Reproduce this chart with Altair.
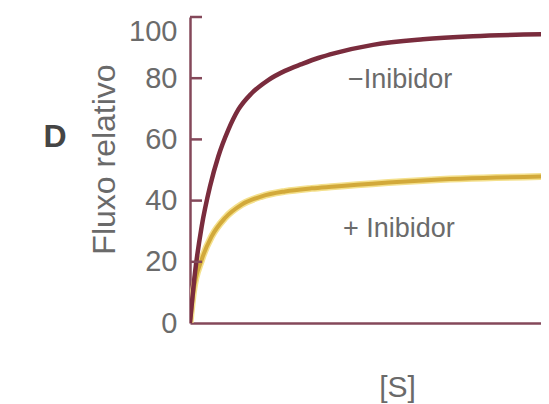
import altair as alt
import pandas as pd

# Data ([S] in arbitrary units, flux in %)
s_sem = [0, 1.39, 3.26, 5.57, 7.88, 10.67, 13.45, 17.19, 21.81, 26.46, 31.11, 35.74, 40.39, 50.97, 64.9, 78.83, 100]
f_sem = [0, 16.4, 31.6, 44.6, 54.4, 63.1, 69.7, 75.1, 79.4, 82.4, 84.6, 86.6, 88.2, 90.9, 92.7, 93.7, 94.4]
s_com = [0, 0.92, 3.26, 6.04, 9.75, 14.4, 19.97, 26.46, 33.9, 40.39, 46.52, 64.9, 100]
f_com = [0, 9.9, 20.7, 28.3, 34.3, 38.7, 41.4, 43, 44.0, 44.6, 45.2, 46.6, 47.9]
y_ticks = [20, 40, 60, 80, 100]
y_labels = [0, 20, 40, 60, 80, 100]
labels = ["\u2212Inibidor", "+ Inibidor"]
label_s = [44, 42.6]
label_f = [79.4, 30.8]

sem = pd.DataFrame({"S": s_sem, "F": f_sem})
com = pd.DataFrame({"S": s_com, "F": f_com})
ticks = pd.DataFrame({"v": y_ticks})
lab = pd.DataFrame({"t": labels, "S": label_s, "F": label_f})

MAROON = "#7a2c3d"
AXIS = "#84485a"
GOLD = "#d2a93a"

xs = alt.Scale(domain=[0, 97.8], nice=False)
ys = alt.Scale(domain=[0, 100], nice=False)

xenc = alt.X("S:Q", scale=xs, axis=alt.Axis(
    title="[S]", labels=False, ticks=False, grid=False,
    domainColor=AXIS, domainWidth=2.5,
    titleFont="Liberation Sans", titleFontSize=30, titleFontWeight="normal",
    titleColor="#6a6a6a", titleX=207, titleY=64, titleBaseline="middle",
    titleAlign="center"))
yenc = alt.Y("F:Q", scale=ys, axis=alt.Axis(
    title="Fluxo relativo", values=y_labels, ticks=False, grid=False,
    domainColor=AXIS, domainWidth=2.5, labelPadding=13,
    labelBaseline=alt.expr("datum.value == 100 ? 'top' : 'middle'"),
    labelFont="Liberation Sans", labelFontSize=29, labelColor="#6b6b6b",
    titleFont="Liberation Sans", titleFontSize=32, titleFontWeight="normal",
    titleColor="#6a6a6a", titleAngle=270, titleX=-86, titleY=142,
    titleAlign="center", titleBaseline="middle"))

halo = alt.Chart(com).mark_line(color="#f4e08c", strokeWidth=7, interpolate="monotone", clip=True).encode(x=xenc, y=yenc)
line_com = alt.Chart(com).mark_line(color=GOLD, strokeWidth=4, interpolate="monotone", clip=True).encode(x=xenc, y=yenc)
line_sem = alt.Chart(sem).mark_line(color=MAROON, strokeWidth=4.5, interpolate="monotone", clip=True).encode(x=xenc, y=yenc)

tick_marks = alt.Chart(ticks).mark_rule(color=AXIS, strokeWidth=2.5).encode(
    x=alt.value(0), x2=alt.value(12), y=alt.Y("v:Q", scale=ys))

text = alt.Chart(lab).mark_text(align="left", baseline="middle", font="Liberation Sans",
                                fontSize=27, color="#6b6b6b").encode(
    x=alt.X("S:Q", scale=xs), y=alt.Y("F:Q", scale=ys), text="t:N")

panel = alt.Chart(pd.DataFrame({"t": ["D"]})).mark_text(
    align="center", baseline="middle", font="Liberation Sans", fontSize=32,
    fontWeight="bold", color="#454545").encode(
    x=alt.value(-135), y=alt.value(120), text="t:N")

chart = alt.layer(halo, line_com, line_sem, tick_marks, text, panel).properties(
    width=351, height=306,
    autosize=alt.AutoSizeParams(type="none"),
    padding={"left": 182, "top": 9, "right": 0, "bottom": 80},
    background="white",
).configure_view(stroke=None)

chart.save("out.html", embed_options={"renderer": "svg", "actions": False})
